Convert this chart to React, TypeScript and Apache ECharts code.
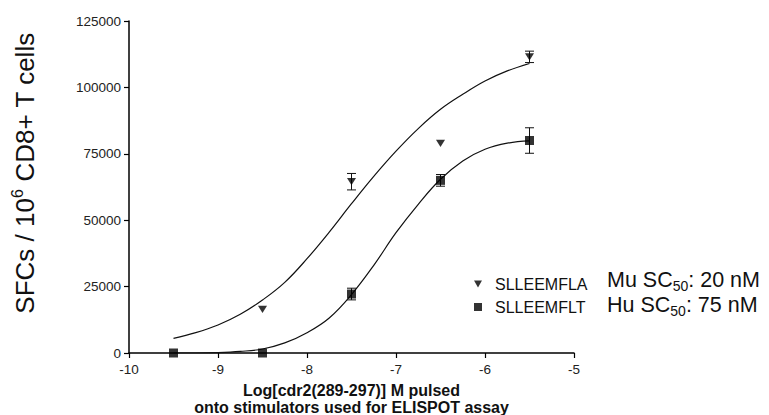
import React, { useEffect, useRef } from "react";
import * as echarts from "echarts";

// Dose (log M) at which responses were measured
const doseMu = [-8.5, -7.5, -6.5, -5.5];
const meanMu = [16450, 64500, 78950, 111500];
const errMu = [0, 3100, 0, 2150];

const doseHu = [-9.5, -8.5, -7.5, -6.5, -5.5];
const meanHu = [0, 0, 22200, 65000, 80000];
const errHu = [0, 0, 2200, 2200, 4800];

// Fitted curves
const fitX = [-9.5, -9.25, -9, -8.75, -8.5, -8.25, -8, -7.75, -7.5, -7.25, -7, -6.75, -6.5, -6.25, -6, -5.75, -5.5];
const fitMu = [5530, 7650, 10540, 14570, 19950, 26600, 35500, 45500, 56200, 66500, 76000, 84500, 91750, 97400, 102400, 106200, 109000];
const fitHu = [0, 0, 150, 600, 1500, 3800, 7650, 13200, 22000, 33000, 45300, 56000, 65400, 72300, 76700, 79000, 79840];

const xTicks = [-10, -9, -8, -7, -6, -5];
const yTicks = [0, 25000, 50000, 75000, 100000, 125000];

const nameMu = "SLLEEMFLA";
const nameHu = "SLLEEMFLT";
const scMu = ["Mu SC", "50", ": 20 nM"];
const scHu = ["Hu SC", "50", ": 75 nM"];
const yTitle = ["SFCs / 10", "6", " CD8+ T cells"];
const xTitle = "Log[cdr2(289-297)] M pulsed\nonto stimulators used for ELISPOT assay";

const FONT = "'Liberation Sans', Arial, Helvetica, sans-serif";
const TRI = "path://M0,0 L10,0 L5,9 Z";

export default function App() {
  const ref = useRef<HTMLDivElement>(null);
  useEffect(() => {
    if (!ref.current) return;
    const chart = echarts.init(ref.current, null, { renderer: "svg" });

    const errData = (xs: number[], m: number[], e: number[]) =>
      xs.map((x, i) => [x, m[i] - e[i], m[i] + e[i]]).filter((d, i) => e[i] > 0);

    const errorSeries = (name: string, data: number[][]) => ({
      type: "custom",
      name: name + "_err",
      data,
      encode: { x: 0, y: [1, 2] },
      z: 3,
      renderItem: (params: any, api: any) => {
        const x = api.value(0);
        const lo = api.coord([x, api.value(1)]);
        const hi = api.coord([x, api.value(2)]);
        const w = 4.5;
        const st = { stroke: "#111", lineWidth: 1 };
        return {
          type: "group",
          children: [
            { type: "line", shape: { x1: lo[0], y1: lo[1], x2: hi[0], y2: hi[1] }, style: st },
            { type: "line", shape: { x1: lo[0] - w, y1: lo[1], x2: lo[0] + w, y2: lo[1] }, style: st },
            { type: "line", shape: { x1: hi[0] - w, y1: hi[1], x2: hi[0] + w, y2: hi[1] }, style: st },
          ],
        };
      },
    });

    const option: any = {
      animation: false,
      backgroundColor: "#fff",
      grid: { left: 129, right: 195, top: 21, bottom: 62, containLabel: false, outerBoundsMode: "none" },
      xAxis: {
        type: "value",
        min: xTicks[0],
        max: xTicks[xTicks.length - 1],
        interval: 1,
        axisLine: { lineStyle: { color: "#000", width: 1.5 } },
        axisTick: { length: 5, lineStyle: { color: "#000", width: 1.2 } },
        axisLabel: { color: "#222", fontSize: 13.5, fontFamily: FONT, margin: 9, formatter: (v: number) => String(v) },
        splitLine: { show: false },
        name: xTitle,
        nameLocation: "middle",
        nameGap: 29,
        nameTextStyle: { color: "#111", fontSize: 16, fontWeight: "bold", fontFamily: FONT, lineHeight: 17 },
      },
      yAxis: {
        type: "value",
        min: yTicks[0],
        max: yTicks[yTicks.length - 1],
        interval: 25000,
        axisLine: { show: true, lineStyle: { color: "#000", width: 1.5 } },
        axisTick: { show: true, length: 5, lineStyle: { color: "#000", width: 1.2 } },
        axisLabel: { color: "#222", fontSize: 13.5, fontFamily: FONT, margin: 8, formatter: (v: number) => String(v) },
        splitLine: { show: false },
      },
      legend: {
        orient: "vertical",
        left: 469,
        top: 271,
        itemWidth: 8,
        itemHeight: 8,
        itemGap: 7,
        data: [nameMu, nameHu],
        formatter: (n: string) => "{a|" + n + "}",
        textStyle: {
          color: "#111",
          fontFamily: FONT,
          fontSize: 16,
          rich: { a: { fontSize: 16, fontFamily: FONT, color: "#111", padding: [0, 0, 0, 8], lineHeight: 18 } },
        },
      },
      graphic: [
        {
          type: "text",
          x: 25,
          y: 173,
          rotation: Math.PI / 2,
          style: {
            text: "{m|" + yTitle[0] + "}{s|" + yTitle[1] + "}{m|" + yTitle[2] + "}",
            align: "center",
            verticalAlign: "middle",
            rich: {
              m: { fontSize: 26, fontFamily: FONT, fill: "#111", lineHeight: 32 },
              s: { fontSize: 16, fontFamily: FONT, fill: "#111", verticalAlign: "top" },
            },
          },
        },
        ...[
          [scMu, 280],
          [scHu, 305],
        ].map(([t, y]: any) => ({
          type: "text",
          x: 607,
          y,
          style: {
            text: "{m|" + t[0] + "}{s|" + t[1] + "}{m|" + t[2] + "}",
            align: "left",
            verticalAlign: "middle",
            rich: {
              m: { fontSize: 21.5, fontFamily: FONT, fill: "#111", lineHeight: 26 },
              s: { fontSize: 14, fontFamily: FONT, fill: "#111", verticalAlign: "bottom" },
            },
          },
        })),
      ],
      series: [
        {
          type: "line",
          name: "fitMu",
          data: fitX.map((x, i) => [x, fitMu[i]]),
          smooth: 0.4,
          showSymbol: false,
          lineStyle: { color: "#111", width: 1.2 },
          z: 2,
        },
        {
          type: "line",
          name: "fitHu",
          data: fitX.map((x, i) => [x, fitHu[i]]),
          smooth: 0.4,
          showSymbol: false,
          lineStyle: { color: "#111", width: 1.2 },
          z: 2,
        },
        errorSeries(nameMu, errData(doseMu, meanMu, errMu)),
        errorSeries(nameHu, errData(doseHu, meanHu, errHu)),
        {
          type: "scatter",
          name: nameMu,
          data: doseMu.map((x, i) => [x, meanMu[i]]),
          symbol: TRI,
          symbolSize: [9, 8],
          symbolKeepAspect: true,
          itemStyle: { color: "#000" },
          z: 4,
        },
        {
          type: "scatter",
          name: nameHu,
          data: doseHu.map((x, i) => [x, meanHu[i]]),
          symbol: "rect",
          symbolSize: 9,
          itemStyle: { color: "#000" },
          z: 4,
        },
      ],
    };
    chart.setOption(option);
    return () => chart.dispose();
  }, []);
  return <div ref={ref} style={{ position: "fixed", left: 0, top: 0, width: 769, height: 415 }} />;
}
